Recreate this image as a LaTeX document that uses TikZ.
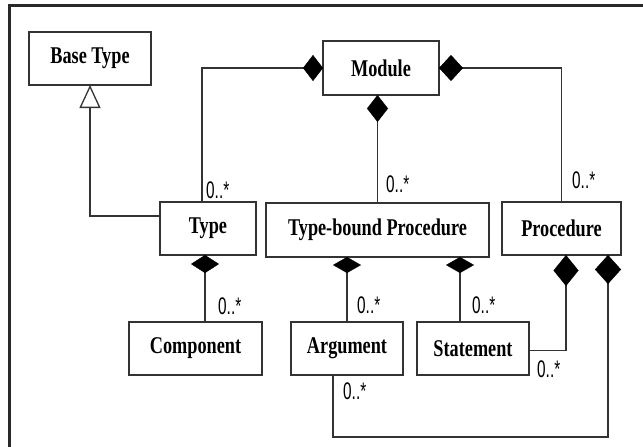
\documentclass[tikz,border=0pt]{standalone}
\usepackage{fontspec}
\setmainfont[FakeStretch=0.76]{Liberation Serif}
\newfontfamily\multfont[FakeStretch=0.64]{Liberation Sans}
\usetikzlibrary{arrows.meta,calc}
\definecolor{ink}{HTML}{333333}
\tikzset{
  cls/.style={draw=ink, line width=1.4pt, fill=white, inner sep=0pt, outer sep=0pt,
    font=\fontsize{24}{28}\selectfont\bfseries},
  link/.style={draw=ink, line width=1.4pt},
  mult/.style={inner sep=0pt, font=\multfont\fontsize{24}{26}\selectfont},
  frame/.style={draw=ink!80!black, line width=3pt},
  inherit/.style={-{Triangle[fill=white, length=23pt, width=21pt, line width=1.3pt]}},
}
\newcommand{\comptip}[2]{-{Diamond[length=#1pt, width=#2pt, color=black, fill=black, line width=0.4pt]}}
\begin{document}
\begin{tikzpicture}[x=1pt, y=-1pt]
  \useasboundingbox (0,0) rectangle (643,447);
  \draw[frame] (9,447) -- (9,5) -- (643,5);

  % classes
  \node[cls, minimum width=122pt, minimum height=53pt] (base) at (90,58.5) {Base Type};
  \node[cls, minimum width=116pt, minimum height=54pt] (module) at (381,68) {Module};
  \node[cls, minimum width=96pt,  minimum height=53pt] (type) at (208,228.5) {Type};
  \node[cls, minimum width=223pt, minimum height=54pt] (tbp) at (377.5,230) {Type-bound Procedure};
  \node[cls, minimum width=119pt, minimum height=53pt] (proc) at (561.5,228.5) {Procedure};
  \node[cls, minimum width=133pt, minimum height=53pt] (comp) at (195.5,348.5) {Component};
  \node[cls, minimum width=112pt, minimum height=53pt] (arg) at (347,348.5) {Argument};
  \node[cls, minimum width=112pt, minimum height=53pt] (stmt) at (473,348.5) {Statement};

  % anchor points of the connectors
  \coordinate (typeIn)  at ($(type.north west)+(0,14)$);
  \coordinate (typeUp)  at ($(type.north)+(-6,0)$);
  \coordinate (typeDn)  at ($(type.south)+(-3,0)$);
  \coordinate (stmtUp)  at ($(stmt.north)+(-13,0)$);
  \coordinate (procDnA) at ($(proc.south)+(4.5,0)$);
  \coordinate (procDnB) at ($(proc.south)+(46.5,0)$);
  \coordinate (argDn)   at ($(arg.south)+(-14,0)$);
  \coordinate (stmtOut) at ($(stmt.east)+(0,2)$);

  % generalisation
  \draw[link, inherit] (typeIn) -| (base.south);

  % compositions owned by Module
  \draw[link, \comptip{20}{26}] (typeUp) |- (module.west);
  \draw[link, \comptip{27}{21}] (tbp.north) -- (tbp.north |- module.south);
  \draw[link, \comptip{24}{26}] (proc.north) |- (module.east);

  % compositions owned by Type and Type-bound Procedure
  \draw[link, \comptip{18}{28}] (comp.north -| typeDn) -- (typeDn);
  \draw[link, \comptip{16}{28}] (arg.north) -- (arg.north |- tbp.south);
  \draw[link, \comptip{16}{28}] (stmtUp) -- (stmtUp |- tbp.south);

  % compositions owned by Procedure
  \draw[link, \comptip{31}{25}] (stmtOut) -| (procDnA);
  \draw[link, \comptip{29}{26}] (argDn) -- ++(0,62) -| (procDnB);

  % multiplicities
  \node[mult, anchor=south west] (m1) at (206,199) {0..*};
  \node[mult, anchor=south west] (m2) at (386,193) {0..*};
  \node[mult, anchor=south west] (m3) at (572,189) {0..*};
  \node[mult, anchor=south west] (m4) at (218,315) {0..*};
  \node[mult, anchor=south west] (m5) at (357,314) {0..*};
  \node[mult, anchor=south west] (m6) at (472,314) {0..*};
  \node[mult, anchor=south west] (m7) at (537,378) {0..*};
  \node[mult, anchor=south west] (m8) at (343,400) {0..*};
\end{tikzpicture}
\end{document}
